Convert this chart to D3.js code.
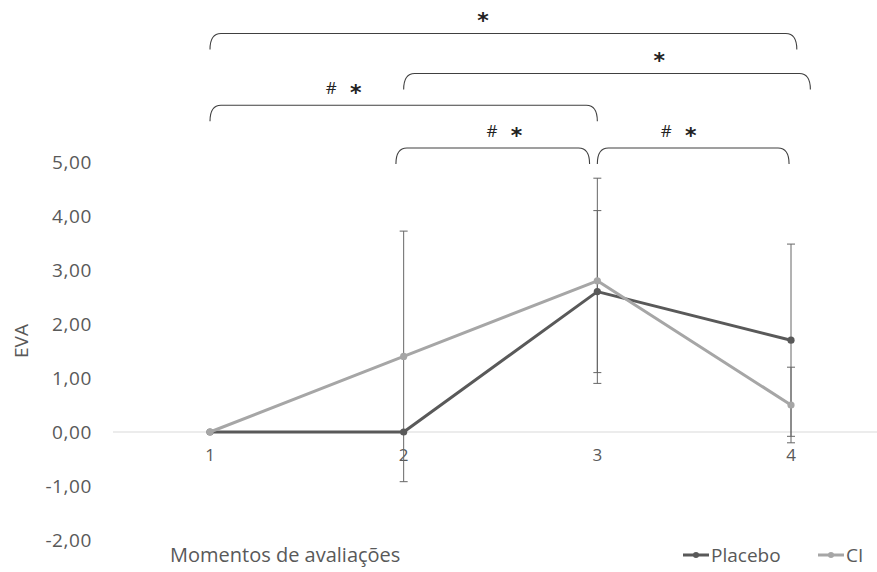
<!DOCTYPE html>
<html>
<head>
    <meta charset="utf-8">
    <style>
        body {
            margin: 0;
            background: #fff;
            font-family: 'Open Sans', 'Noto Sans', sans-serif;
        }

        svg {
            display: block;
        }
    </style>
</head>
<body>
    <svg width="877" height="572"></svg>

<script src="https://d3js.org/d3.v7.min.js"></script>
<script>
    // moments of evaluation
    let moments = [1, 2, 3, 4]

    // mean EVA for each group
    let placebo = [0, 0, 2.6, 1.7]
    let ci = [0, 1.4, 2.8, 0.5]

    // standard deviations (error bars)
    let placeboSd = [0, 0, 1.5, 1.78]
    let ciSd = [0, 2.32, 1.9, 0.7]

    let yTicks = [-2, -1, 0, 1, 2, 3, 4, 5]

    // significance brackets: moments compared, height (in EVA units), label position
    let comparisons = [
        { from: 1, to: 4.03, level: 7.38, labelAt: 2.41, label: ["", "*"] },
        { from: 2, to: 4.1, level: 6.64, labelAt: 3.32, label: ["", "*"] },
        { from: 1, to: 3, level: 6.05, labelAt: 1.69, label: ["#", "*"] },
        { from: 1.96, to: 2.96, level: 5.26, labelAt: 2.52, label: ["#", "*"] },
        { from: 3, to: 3.99, level: 5.26, labelAt: 3.42, label: ["#", "*"] }
    ]

    let series = [
        { name: "Placebo", values: placebo, sd: placeboSd, color: "#595959" },
        { name: "CI", values: ci, sd: ciSd, color: "#a6a6a6" }
    ]

    let svg = d3.select("svg")

    let x = d3.scaleLinear()
        .domain([1, 4])
        .range([210, 791])

    let y = d3.scaleLinear()
        .domain([-2, 5])
        .range([540, 162])

    let fmt = d => d3.format(".2f")(d).replace(".", ",").replace("\u2212", "-")

    // zero line
    svg.append("line")
        .attr("x1", 113)
        .attr("x2", 877)
        .attr("y1", y(0))
        .attr("y2", y(0))
        .style("stroke", "#d9d9d9")
        .style("stroke-width", 1)

    // y tick labels
    svg.selectAll(".ytick")
        .data(yTicks)
        .join("text")
        .attr("class", "ytick")
        .attr("x", 92)
        .attr("y", d => y(d))
        .attr("dy", "0.36em")
        .attr("text-anchor", "end")
        .style("font-size", "19px")
        .style("letter-spacing", "0.6px")
        .style("fill", "#595959")
        .text(fmt)

    // x tick labels
    svg.selectAll(".xtick")
        .data(moments)
        .join("text")
        .attr("class", "xtick")
        .attr("x", d => x(d))
        .attr("y", y(0) + 29)
        .attr("text-anchor", "middle")
        .style("font-size", "17px")
        .style("fill", "#595959")
        .text(d => d)

    // axis titles
    svg.append("text")
        .attr("transform", "translate(28,341) rotate(-90)")
        .attr("text-anchor", "middle")
        .style("font-size", "19px")
        .style("fill", "#595959")
        .text("EVA")

    svg.append("text")
        .attr("x", 170)
        .attr("y", 562)
        .style("font-size", "20px")
        .style("fill", "#595959")
        .text("Momentos de avaliações")

    // error bars
    let bars = []
    series.forEach(s => {
        s.values.forEach((v, i) => {
            if (s.sd[i] > 0) bars.push({ m: moments[i], lo: v - s.sd[i], hi: v + s.sd[i] })
        })
    })

    let eb = svg.selectAll(".err")
        .data(bars)
        .join("g")
        .attr("class", "err")
        .style("stroke", "#666")
        .style("stroke-width", 1)

    eb.append("line")
        .attr("x1", d => x(d.m))
        .attr("x2", d => x(d.m))
        .attr("y1", d => y(d.lo))
        .attr("y2", d => y(d.hi))

    eb.append("line")
        .attr("x1", d => x(d.m) - 4)
        .attr("x2", d => x(d.m) + 4)
        .attr("y1", d => y(d.hi))
        .attr("y2", d => y(d.hi))

    eb.append("line")
        .attr("x1", d => x(d.m) - 4)
        .attr("x2", d => x(d.m) + 4)
        .attr("y1", d => y(d.lo))
        .attr("y2", d => y(d.lo))

    // lines + markers
    let line = d3.line()
        .x((d, i) => x(moments[i]))
        .y(d => y(d))

    series.forEach(s => {
        svg.append("path")
            .datum(s.values)
            .attr("d", line)
            .style("fill", "none")
            .style("stroke", s.color)
            .style("stroke-width", 3)
            .style("stroke-linejoin", "round")

        svg.selectAll(".pt-" + s.name)
            .data(s.values)
            .join("circle")
            .attr("cx", (d, i) => x(moments[i]))
            .attr("cy", d => y(d))
            .attr("r", 3.6)
            .style("fill", s.color)
    })

    // significance brackets
    let bracket = d => {
        let x1 = x(d.from), x2 = x(d.to), yy = y(d.level)
        let h = 16, r = 11
        return "M" + x1 + "," + (yy + h) +
            " Q" + x1 + "," + yy + " " + (x1 + r) + "," + yy +
            " L" + (x2 - r) + "," + yy +
            " Q" + x2 + "," + yy + " " + x2 + "," + (yy + h)
    }

    svg.selectAll(".bracket")
        .data(comparisons)
        .join("path")
        .attr("class", "bracket")
        .attr("d", bracket)
        .style("fill", "none")
        .style("stroke", "#404040")
        .style("stroke-width", 1.1)

    let labels = svg.selectAll(".sig")
        .data(comparisons)
        .join("text")
        .attr("class", "sig")
        .attr("x", d => x(d.labelAt))
        .attr("y", d => y(d.level) - 11)
        .attr("text-anchor", "middle")
        .style("fill", "#222")

    labels.append("tspan")
        .style("font-family", "'Open Sans', sans-serif")
        .style("font-size", "17px")
        .style("white-space", "pre")
        .text(d => d.label[0] ? d.label[0] + "   " : "")

    labels.append("tspan")
        .attr("dy", 6)
        .style("font-family", "'DejaVu Sans', sans-serif")
        .style("font-weight", "bold")
        .style("font-size", "22px")
        .text(d => d.label[1])

    // legend
    let legend = svg.selectAll(".legend")
        .data(series)
        .join("g")
        .attr("class", "legend")
        .attr("transform", (d, i) => "translate(" + (i ? 818 : 683) + ",555)")

    legend.append("line")
        .attr("x1", 0)
        .attr("x2", 26)
        .style("stroke", d => d.color)
        .style("stroke-width", 3)

    legend.append("circle")
        .attr("cx", 13)
        .attr("r", 3)
        .style("fill", d => d.color)

    legend.append("text")
        .attr("x", 28)
        .attr("dy", "0.36em")
        .style("font-size", "19px")
        .style("fill", "#595959")
        .text(d => d.name)
</script>
</body>
</html>
